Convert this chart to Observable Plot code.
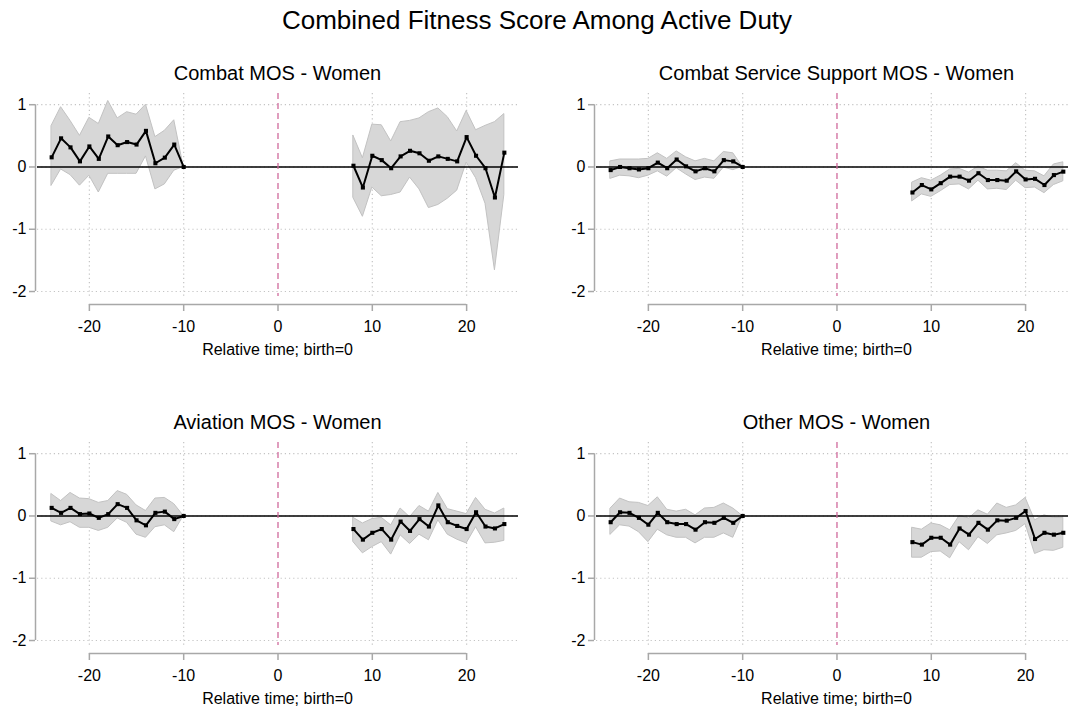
<!DOCTYPE html>
<html>
<head>
<meta charset="utf-8">
<script src="https://cdn.jsdelivr.net/npm/d3@7"></script>
<script src="https://cdn.jsdelivr.net/npm/@observablehq/plot@0.6"></script>
<style>
  html, body { margin: 0; padding: 0; background: #fff; overflow: hidden; }
  body { width: 1068px; height: 708px; position: relative; font-family: "Liberation Sans", Arial, sans-serif; }
  .t { position: absolute; white-space: nowrap; transform: translate(-50%, -50%); color: #000; }
  .main { font-size: 26px; }
  .ptitle { font-size: 20px; }
  .xlab { font-size: 16px; }
  .panel { position: absolute; }
</style>
</head>
<body>
<script>
// ---- data ----
const mainTitle = "Combined Fitness Score Among Active Duty";
const panelTitles = ["Combat MOS - Women", "Combat Service Support MOS - Women", "Aviation MOS - Women", "Other MOS - Women"];
const xLabel = "Relative time; birth=0";
const xTicks = [-20, -10, 0, 10, 20];
const yTicks = [1, 0, -1, -2];

const preTimes = [-24, -23, -22, -21, -20, -19, -18, -17, -16, -15, -14, -13, -12, -11, -10];
const postTimes = [8, 9, 10, 11, 12, 13, 14, 15, 16, 17, 18, 19, 20, 21, 22, 23, 24];

// Combat MOS - Women
const combatPre   = [0.155, 0.46, 0.315, 0.09, 0.33, 0.13, 0.49, 0.35, 0.40, 0.36, 0.58, 0.06, 0.15, 0.36, 0];
const combatPreHi = [0.66, 0.96, 0.74, 0.50, 0.79, 0.69, 1.06, 0.78, 0.88, 0.84, 1.00, 0.48, 0.58, 0.75, 0];
const combatPreLo = [-0.30, -0.04, -0.13, -0.30, -0.14, -0.41, -0.11, -0.11, -0.11, -0.11, 0.17, -0.36, -0.28, -0.06, 0];
const combatPost   = [0.02, -0.33, 0.18, 0.11, -0.02, 0.17, 0.26, 0.22, 0.10, 0.17, 0.13, 0.09, 0.48, 0.18, -0.02, -0.49, 0.23];
const combatPostHi = [0.50, 0.14, 0.68, 0.67, 0.41, 0.72, 0.74, 0.78, 0.88, 0.94, 0.80, 0.57, 0.90, 0.59, 0.66, 0.72, 0.85];
const combatPostLo = [-0.50, -0.80, -0.33, -0.47, -0.45, -0.41, -0.17, -0.36, -0.66, -0.61, -0.51, -0.38, 0.07, -0.18, -0.59, -1.66, -0.45];

// Combat Service Support MOS - Women
const cssPre   = [-0.05, 0.0, -0.02, -0.04, -0.02, 0.07, -0.02, 0.12, 0.01, -0.07, -0.02, -0.07, 0.11, 0.09, 0];
const cssPreHi = [0.09, 0.12, 0.12, 0.12, 0.13, 0.22, 0.13, 0.25, 0.155, 0.09, 0.13, 0.09, 0.24, 0.22, 0];
const cssPreLo = [-0.19, -0.14, -0.15, -0.18, -0.14, -0.07, -0.155, -0.02, -0.12, -0.21, -0.17, -0.19, -0.01, -0.05, 0];
const cssPost   = [-0.41, -0.29, -0.36, -0.26, -0.155, -0.155, -0.22, -0.10, -0.21, -0.21, -0.22, -0.07, -0.20, -0.19, -0.29, -0.13, -0.075];
const cssPostHi = [-0.25, -0.18, -0.22, -0.14, -0.04, -0.03, -0.09, 0.005, -0.06, -0.06, -0.07, 0.06, -0.06, -0.07, -0.15, 0.04, 0.075];
const cssPostLo = [-0.55, -0.44, -0.48, -0.39, -0.29, -0.28, -0.36, -0.22, -0.36, -0.35, -0.37, -0.22, -0.34, -0.33, -0.42, -0.29, -0.23];

// Aviation MOS - Women
const avPre   = [0.13, 0.05, 0.13, 0.03, 0.04, -0.03, 0.03, 0.19, 0.13, -0.07, -0.15, 0.05, 0.07, -0.05, 0];
const avPreHi = [0.35, 0.24, 0.37, 0.28, 0.27, 0.21, 0.24, 0.40, 0.34, 0.17, 0.08, 0.28, 0.29, 0.19, 0];
const avPreLo = [-0.09, -0.15, -0.10, -0.19, -0.19, -0.24, -0.19, -0.04, -0.11, -0.30, -0.35, -0.18, -0.15, -0.26, 0];
const avPost   = [-0.21, -0.38, -0.27, -0.21, -0.38, -0.09, -0.24, -0.05, -0.17, 0.17, -0.10, -0.16, -0.21, 0.06, -0.17, -0.20, -0.13];
const avPostHi = [-0.03, -0.12, -0.05, -0.03, -0.15, 0.12, -0.02, 0.16, 0.07, 0.37, 0.11, 0.07, 0.03, 0.29, 0.10, 0.04, 0.12];
const avPostLo = [-0.42, -0.60, -0.50, -0.42, -0.62, -0.31, -0.45, -0.30, -0.39, -0.07, -0.30, -0.38, -0.44, -0.18, -0.44, -0.43, -0.40];

// Other MOS - Women
const otPre   = [-0.10, 0.06, 0.05, -0.03, -0.14, 0.05, -0.10, -0.13, -0.13, -0.22, -0.10, -0.11, -0.03, -0.11, 0];
const otPreHi = [0.12, 0.28, 0.22, 0.21, 0.16, 0.30, 0.10, 0.07, 0.10, 0.01, 0.12, 0.13, 0.20, 0.12, 0];
const otPreLo = [-0.30, -0.15, -0.17, -0.26, -0.42, -0.22, -0.31, -0.35, -0.35, -0.44, -0.35, -0.35, -0.28, -0.35, 0];
const otPost   = [-0.42, -0.46, -0.35, -0.35, -0.46, -0.20, -0.30, -0.11, -0.22, -0.07, -0.075, -0.03, 0.08, -0.37, -0.27, -0.30, -0.27];
const otPostHi = [-0.19, -0.22, -0.12, -0.15, -0.23, 0.0, -0.04, 0.09, 0.02, 0.20, 0.13, 0.17, 0.29, -0.07, 0.01, -0.03, -0.03];
const otPostLo = [-0.67, -0.67, -0.58, -0.57, -0.68, -0.42, -0.55, -0.34, -0.45, -0.31, -0.28, -0.24, -0.13, -0.61, -0.55, -0.56, -0.51];

// ---- build tables ----
function rows(times, est, hi, lo, seg) {
  return times.map((t, i) => ({t, est: est[i], hi: hi[i], lo: lo[i], seg}));
}
const panels = [
  {title: panelTitles[0], data: [...rows(preTimes, combatPre, combatPreHi, combatPreLo, "pre"), ...rows(postTimes, combatPost, combatPostHi, combatPostLo, "post")]},
  {title: panelTitles[1], data: [...rows(preTimes, cssPre, cssPreHi, cssPreLo, "pre"), ...rows(postTimes, cssPost, cssPostHi, cssPostLo, "post")]},
  {title: panelTitles[2], data: [...rows(preTimes, avPre, avPreHi, avPreLo, "pre"), ...rows(postTimes, avPost, avPostHi, avPostLo, "post")]},
  {title: panelTitles[3], data: [...rows(preTimes, otPre, otPreHi, otPreLo, "pre"), ...rows(postTimes, otPost, otPostHi, otPostLo, "post")]}
];

// ---- layout ----
const Y_DOMAIN = [-2.08, 1.18];
const yMin = Y_DOMAIN[0];
const positions = [
  {left: 0,   top: 85,  width: 534, xDomain: [-25.5, 25.5]},
  {left: 559, top: 85,  width: 509, xDomain: [-25.5, 24.55]},
  {left: 0,   top: 434, width: 534, xDomain: [-25.5, 25.5]},
  {left: 559, top: 434, width: 509, xDomain: [-25.5, 24.55]}
];

function addText(cls, text, x, y) {
  const d = document.createElement("div");
  d.className = "t " + cls;
  d.textContent = text;
  d.style.left = x + "px";
  d.style.top = y + "px";
  document.body.appendChild(d);
}

addText("main", mainTitle, 537, 20);

const gridX = xTicks.filter(d => d !== 0);
const zeroX = xTicks.filter(d => d === 0);
const fmt = d => d < 0 ? "-" + Math.abs(d) : String(d);

panels.forEach((p, i) => {
  const pos = positions[i];
  const mr = pos.width === 534 ? 16 : 0;
  const chart = Plot.plot({
    width: pos.width,
    height: 280,
    marginTop: 8,
    marginBottom: 69,
    marginLeft: 37,
    marginRight: mr,
    style: {fontFamily: "'Liberation Sans', Arial, sans-serif", fontSize: "16px", color: "#000", background: "transparent", overflow: "visible"},
    x: {domain: pos.xDomain},
    y: {domain: Y_DOMAIN},
    marks: [
      // grid
      Plot.ruleY(yTicks, {stroke: "#c4c4c4", strokeWidth: 1.2, strokeDasharray: "1.2,3"}),
      Plot.ruleX(gridX, {stroke: "#c4c4c4", strokeWidth: 1.2, strokeDasharray: "1.2,3"}),
      // CI band
      Plot.areaY(p.data, {x: "t", y1: "lo", y2: "hi", z: "seg", fill: "#d7d7d7", stroke: "#c2c2c2", strokeWidth: 1}),
      // zero line
      Plot.ruleY([0], {stroke: "#000", strokeWidth: 1.6}),
      // birth line
      Plot.ruleX(zeroX, {stroke: "#d06a9c", strokeWidth: 1.3, strokeDasharray: "6,4"}),
      // estimates
      Plot.line(p.data, {x: "t", y: "est", z: "seg", stroke: "#000", strokeWidth: 2}),
      Plot.dot(p.data, {x: "t", y: "est", symbol: "square", r: 2.3, fill: "#000"}),
      // y axis
      Plot.ruleX([{x: pos.xDomain[0], y1: d3.min(yTicks), y2: d3.max(yTicks)}], {x: "x", y1: "y1", y2: "y2", dx: -2, stroke: "#a8a8a8", strokeWidth: 1.5}),
      Plot.axisY(yTicks, {tickSize: 6, tickPadding: 3, dx: -2, stroke: "#a8a8a8", strokeWidth: 1.5, fontSize: 16, fill: "#000", label: null, tickFormat: fmt}),
      // x axis
      Plot.ruleY([{y: yMin, x1: d3.min(xTicks), x2: d3.max(xTicks)}], {y: "y", x1: "x1", x2: "x2", dy: 8, stroke: "#a8a8a8", strokeWidth: 1.5}),
      Plot.axisX(xTicks, {tickSize: 7, tickPadding: 9, dy: 8, stroke: "#a8a8a8", strokeWidth: 1.5, fontSize: 16, fill: "#000", label: null, tickFormat: fmt})
    ]
  });
  const wrap = document.createElement("div");
  wrap.className = "panel";
  wrap.style.left = pos.left + "px";
  wrap.style.top = pos.top + "px";
  wrap.appendChild(chart);
  document.body.appendChild(wrap);

  const x0 = pos.left + 37 + (0 - pos.xDomain[0]) / (pos.xDomain[1] - pos.xDomain[0]) * (pos.width - 37 - mr);
  addText("ptitle", p.title, x0, pos.top - 12);
  addText("xlab", xLabel, x0, pos.top + 265);
});
</script>
</body>
</html>
